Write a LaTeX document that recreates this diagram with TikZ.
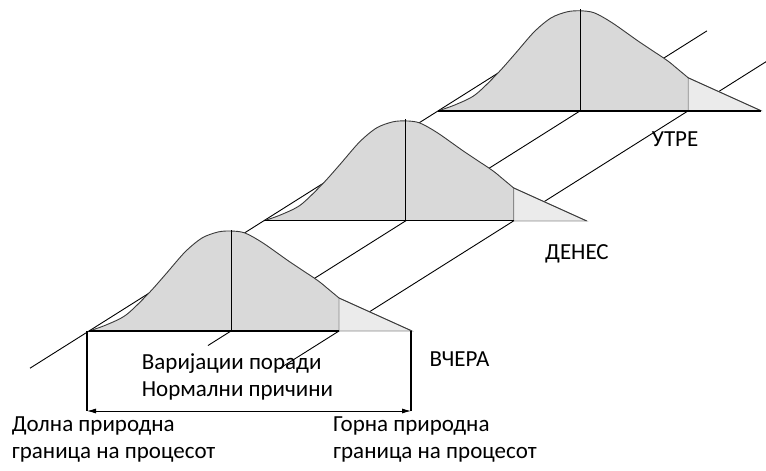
\documentclass[tikz,border=0pt]{standalone}
\usepackage{fontspec}
\setmainfont{Carlito}
\usetikzlibrary{arrows.meta,calc}
\definecolor{bellfill}{HTML}{D9D9D9}
\definecolor{tailfill}{HTML}{EBEBEB}
\definecolor{bellline}{HTML}{3A3A3A}
\definecolor{tailline}{HTML}{8A8A8A}
\newcommand\bellcurve{plot[smooth,tension=0.5] coordinates {(-142,0) (-125,-6) (-105,-16) (-83,-37) (-66,-56) (-46,-79) (-29,-93) (-13,-99) (0,-100) (14,-98) (32,-88) (59,-69) (86,-51) (96,-43) (108,-33)}}
\tikzset{
  rail/.style={black, line width=0.9pt},
  lbl/.style={anchor=base west, inner sep=0pt, font=\fontsize{23}{27}\selectfont},
  bell/.pic={
    % body of the distribution
    \fill[bellfill] \bellcurve -- (108,0) -- (-142,0) -- cycle;
    % right tail beyond the natural limit
    \filldraw[fill=tailfill, draw=tailline, line width=0.8pt] (108,0) -- (108,-33) -- (181,0) -- cycle;
    \draw[bellline, line width=0.9pt] \bellcurve -- (181,0);
    % centre line
    \draw[black, line width=0.9pt] (0,0) -- (0,-101.5);
  },
  bracket/.style={black, line width=1.3pt},
  span/.style={black, line width=0.8pt, {Latex[length=9pt,width=5pt]}-{Latex[length=9pt,width=5pt]}}
}
\begin{document}
\begin{tikzpicture}[x=1pt,y=-1pt]
\useasboundingbox (0,0) rectangle (766,471);
\clip (0,0) rectangle (766,471);

% anchor points of the three distributions (left end, centre, limit, tail end)
\coordinate (L1) at (89,331);    \coordinate (C1) at (231,331);
\coordinate (U1) at (339,331);   \coordinate (E1) at (412,331);
\coordinate (L2) at (263.6,220.9); \coordinate (C2) at (405.6,220.9);
\coordinate (U2) at (513.6,220.9); \coordinate (E2) at (586.6,220.9);
\coordinate (L3) at (438.2,110.8); \coordinate (C3) at (580.2,110.8);
\coordinate (U3) at (688.2,110.8); \coordinate (E3) at (761.2,110.8);

% the three time rails
\coordinate (LS) at ($(L1)!-0.169!(L3)$);
\coordinate (LE) at ($(L1)!1.30!(L3)$);
\coordinate (CS) at ($(C1)!-0.066!(C3)$);
\coordinate (CE) at ($(C1)!1.363!(C3)$);
\coordinate (US) at ($(U1)!-0.169!(U3)$);
\coordinate (UE) at ($(U1)!1.30!(U3)$);
\draw[rail] (LS) -- (LE);
\draw[rail] (CS) -- (CE);
\draw[rail] (US) -- (UE);

% distributions, back to front
\pic at (C3) {bell};
\draw[black, line width=2pt] (L3) -- (E3);
\pic at (C2) {bell};
\draw[black, line width=1pt] (L2) -- (U2);
\pic at (C1) {bell};
\draw[black, line width=2pt] (L1) -- (U1);

% spread of common-cause variation
\coordinate (BLt) at (87,331);  \coordinate (BLb) at (87,411);
\coordinate (BRt) at (411,331); \coordinate (BRb) at (411,411);
\draw[bracket] (BLt) -- (BLb);
\draw[bracket] (BRt) -- (BRb);
\draw[span] (BLb) -- (BRb);

% labels
\node[lbl] (var1) at (141.7,369.3) {Варијации поради};
\node[lbl] (var2) at (141.7,396.7) {Нормални причини};
\node[lbl] (low1) at (11.7,431.7) {Долна природна};
\node[lbl] (low2) at (11.7,458.3) {граница на процесот};
\node[lbl] (up1) at (333,431.7) {Горна природна};
\node[lbl] (up2) at (333,458.3) {граница на процесот};
\node[lbl] (yest) at (429.3,366) {ВЧЕРА};
\node[lbl] (today) at (545,259.3) {ДЕНЕС};
\node[lbl] (tmrw) at (651.7,146.7) {УТРЕ};
\end{tikzpicture}
\end{document}
